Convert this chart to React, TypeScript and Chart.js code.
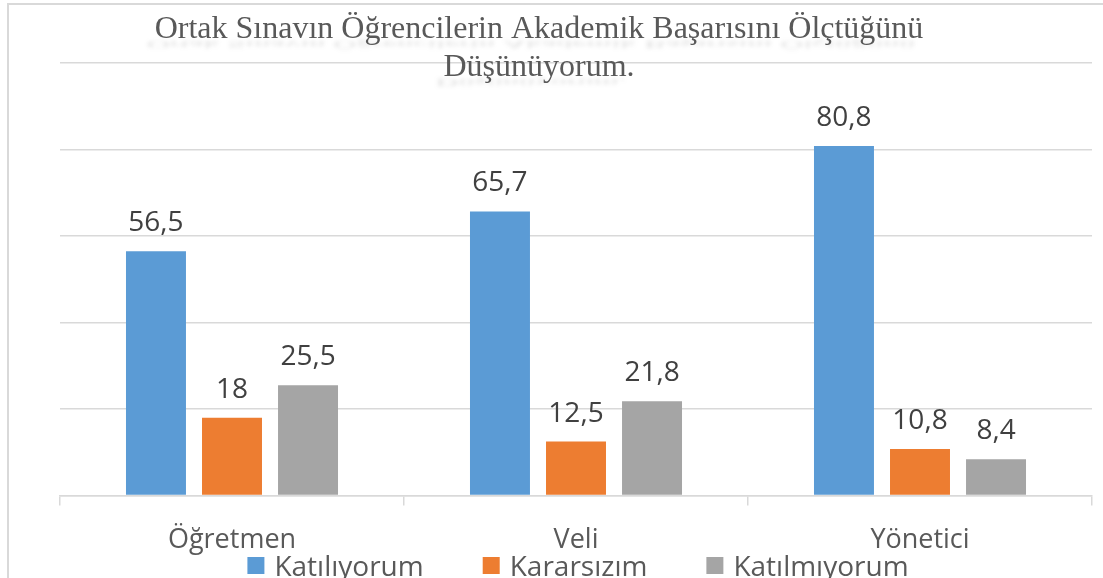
import React, { useEffect, useRef } from "react";
import { Chart, registerables } from "chart.js";

Chart.register(...registerables);

const categories = ["Öğretmen", "Veli", "Yönetici"];
const seriesNames = ["Katılıyorum", "Kararsızım", "Katılmıyorum"];
const katiliyorum = [56.5, 65.7, 80.8];
const kararsizim = [18, 12.5, 10.8];
const katilmiyorum = [25.5, 21.8, 8.4];
const seriesColors = ["#5B9BD5", "#ED7D31", "#A5A5A5"];
const titleLines = [
  "Ortak Sınavın Öğrencilerin Akademik Başarısını Ölçtüğünü",
  "Düşünüyorum.",
];

const SANS = "'Open Sans', 'Noto Sans', sans-serif";
const SERIF = "'Liberation Serif', 'DejaVu Serif', serif";

const fmt = (v: number) => String(v).replace(".", ",");

const decorPlugin = {
  id: "decor",
  beforeDraw(chart: any) {
    const { ctx, width, height } = chart;
    ctx.save();
    ctx.fillStyle = "#ffffff";
    ctx.fillRect(0, 0, width, height);
    ctx.strokeStyle = "#d9d9d9";
    ctx.lineWidth = 2;
    ctx.strokeRect(8, 4, width + 50, height + 50);
    ctx.restore();
  },
  afterDraw(chart: any) {
    const { ctx } = chart;
    ctx.save();
    // data labels
    ctx.font = `28px ${SANS}`;
    ctx.fillStyle = "#404040";
    ctx.textAlign = "center";
    ctx.textBaseline = "alphabetic";
    chart.data.datasets.forEach((ds: any, di: number) => {
      const meta = chart.getDatasetMeta(di);
      meta.data.forEach((bar: any, i: number) => {
        ctx.fillText(fmt(ds.data[i]), bar.x, bar.y - 20);
      });
    });

    // title with reflection
    const cx = 539;
    const baselines = [38, 76];
    ctx.font = `32px ${SERIF}`;
    ctx.textAlign = "center";
    titleLines.forEach((line, i) => {
      const by = baselines[i];
      ctx.save();
      ctx.globalAlpha = 0.2;
      ctx.filter = "blur(2px)";
      ctx.translate(cx - 8, by + 3);
      ctx.scale(1, -0.35);
      ctx.fillStyle = "#595959";
      ctx.fillText(line, 0, 0);
      ctx.restore();
      ctx.fillStyle = "#595959";
      ctx.fillText(line, cx, by);
    });

    // legend
    ctx.font = `28px ${SANS}`;
    ctx.textAlign = "left";
    const box = 17;
    const gapBox = 10;
    const gapItem = 59;
    const widths = seriesNames.map((n) => box + gapBox + ctx.measureText(n).width);
    const total = widths.reduce((a, b) => a + b, 0) + gapItem * (seriesNames.length - 1);
    const area = chart.chartArea;
    let x = (area.left + area.right) / 2 - total / 2 + 2;
    const textBase = 576;
    seriesNames.forEach((n, i) => {
      ctx.fillStyle = seriesColors[i];
      ctx.fillRect(x, 557, box, box);
      ctx.fillStyle = "#595959";
      ctx.fillText(n, x + box + gapBox, textBase);
      x += widths[i] + gapItem;
    });
    ctx.restore();
  },
};

export default function App() {
  const ref = useRef<HTMLCanvasElement | null>(null);
  useEffect(() => {
    if (!ref.current) return;
    const seriesData = [katiliyorum, kararsizim, katilmiyorum];
    const chart = new Chart(ref.current, {
      type: "bar",
      data: {
        labels: categories,
        datasets: seriesNames.map((name, i) => ({
          label: name,
          data: seriesData[i],
          backgroundColor: seriesColors[i],
          borderWidth: 0,
          categoryPercentage: 0.663,
          barPercentage: 0.789,
        })),
      },
      options: {
        responsive: false,
        animation: false,
        layout: { padding: { left: 60, right: 11, top: 63, bottom: 2 } },
        plugins: {
          legend: { display: false },
          title: { display: false },
          tooltip: { enabled: false },
        },
        scales: {
          x: {
            grid: {
              offset: true,
              drawOnChartArea: false,
              drawTicks: true,
              tickLength: 10,
              color: "#d9d9d9",
              lineWidth: 1.5,
            },
            border: { display: true, color: "#d9d9d9", width: 1.5 },
            ticks: {
              color: "#595959",
              font: { family: SANS, size: 27 },
              padding: 19,
            },
          },
          y: {
            min: 0,
            max: 100,
            ticks: { display: false, stepSize: 20 },
            grid: { color: "#d9d9d9", lineWidth: 1.5, drawTicks: false },
            border: { display: false },
          },
        },
      },
      plugins: [decorPlugin],
    });
    return () => chart.destroy();
  }, []);
  return (
    <div style={{ position: "fixed", left: 0, top: 0, width: 1103, height: 578, overflow: "hidden", background: "#fff" }}>
      <canvas ref={ref} width={1103} height={578} style={{ display: "block" }} />
    </div>
  );
}
